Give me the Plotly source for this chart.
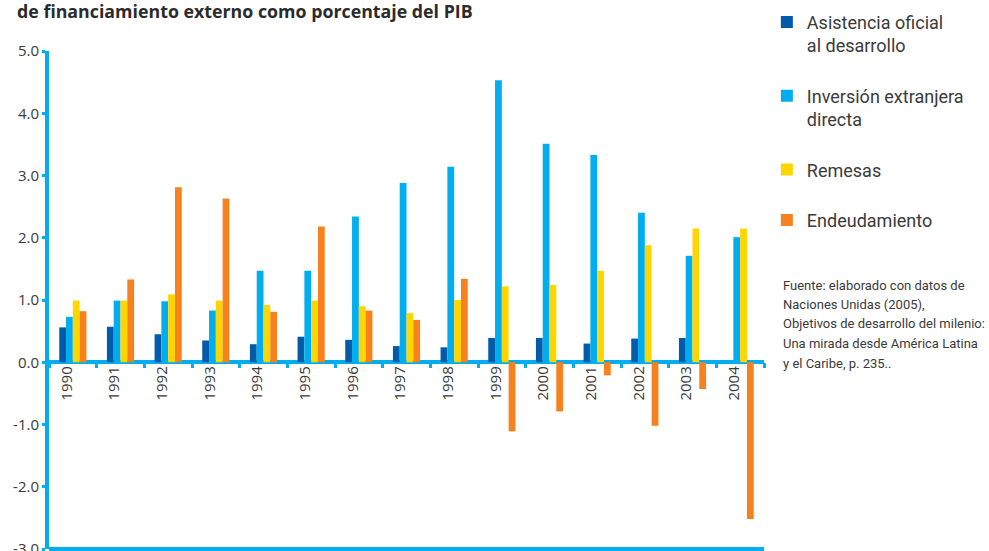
"""Flujos de financiamiento externo como porcentaje del PIB."""

import plotly.graph_objects as go

years = [str(y) for y in range(1990, 2005)]

asistencia = [0.56, 0.57, 0.45, 0.35, 0.29, 0.41, 0.36, 0.26, 0.24, 0.39,
              0.39, 0.30, 0.38, 0.39, None]
inversion = [0.73, 0.99, 0.98, 0.83, 1.47, 1.47, 2.34, 2.88, 3.14, 4.53,
             3.51, 3.33, 2.40, 1.71, 2.01]
remesas = [0.99, 0.99, 1.09, 0.99, 0.92, 0.99, 0.90, 0.79, 1.00, 1.22,
           1.24, 1.47, 1.88, 2.15, 2.15]
endeudamiento = [0.82, 1.33, 2.81, 2.63, 0.81, 2.18, 0.83, 0.68, 1.34, -1.11,
                 -0.79, -0.21, -1.02, -0.43, -2.52]

y_ticks = [-3, -2, -1, 0, 1, 2, 3, 4, 5]
y_tick_labels = ["-3.0", "-2.0", "-1.0", "0.0", "1.0", "2.0", "3.0", "4.0", "5.0"]

series = [
    ("Asistencia oficial<br>al desarrollo", asistencia, "#005BAA"),
    ("Inversión extranjera<br>directa", inversion, "#00AEEF"),
    ("Remesas", remesas, "#FFD500"),
    ("Endeudamiento", endeudamiento, "#F5821F"),
]

source_lines = [
    "Fuente: elaborado con datos de",
    "Naciones Unidas (2005),",
    "Objetivos de desarrollo del milenio:",
    "Una mirada desde América Latina",
    "y el Caribe, p. 235..",
]

AXIS_BLUE = "#00AEEF"
TEXT = "#3a3a3a"
FONT = "Open Sans, sans-serif"
NARROW = "Roboto, sans-serif"

TOP, BOTTOM = 51, 2
PLOT_H = 551 - TOP - BOTTOM  # plot area height in px, used to place notes

fig = go.Figure()

for i, (name, values, color) in enumerate(series):
    fig.add_trace(
        go.Bar(
            x=years,
            y=values,
            name=name,
            legendgroup=str(i),
            marker_color=color,
            marker_line_width=0,
        )
    )

# Bottom frame line at the foot of the plot
fig.add_shape(
    type="line", xref="paper", yref="paper",
    x0=0, x1=1, y0=0, y1=0,
    line=dict(color=AXIS_BLUE, width=4),
)

fig.update_layout(
    width=989,
    height=551,
    margin=dict(l=49, r=225, t=TOP, b=BOTTOM, autoexpand=False),
    paper_bgcolor="white",
    plot_bgcolor="white",
    font=dict(family=FONT, color=TEXT, size=15),
    barmode="group",
    bargap=0.43,
    bargroupgap=0,
    title=dict(
        text="<b>de financiamiento externo como porcentaje del PIB</b>",
        x=17 / 989,
        xref="container",
        xanchor="left",
        y=1 - 12 / 551,
        yref="container",
        yanchor="middle",
        font=dict(family=FONT, size=17.8, color="#2b2b2b"),
    ),
    xaxis=dict(
        type="category",
        anchor="free",
        position=0.375,
        showline=False,
        showgrid=False,
        ticks="outside",
        tickson="boundaries",
        ticklen=5,
        tickwidth=3,
        tickcolor=AXIS_BLUE,
        tickangle=-90,
        tickfont=dict(size=15, color=TEXT),
        ticklabelshift=-6,
    ),
    yaxis=dict(
        range=[-3, 5],
        tickvals=y_ticks,
        ticktext=y_tick_labels,
        showgrid=False,
        showline=True,
        linecolor=AXIS_BLUE,
        linewidth=4,
        zeroline=True,
        zerolinecolor=AXIS_BLUE,
        zerolinewidth=4,
        ticks="outside",
        ticklen=3,
        tickwidth=3,
        tickcolor=AXIS_BLUE,
        tickfont=dict(size=15, color=TEXT),
        ticklabeloverflow="allow",
    ),
    legend=dict(
        x=1.004,
        xanchor="left",
        y=1.095,
        yanchor="top",
        valign="top",
        tracegroupgap=24,
        traceorder="grouped",
        font=dict(family=NARROW, size=18, color=TEXT),
        itemwidth=30,
    ),
    showlegend=True,
)

# Source note, one annotation per line to keep the original line spacing
for k, line in enumerate(source_lines):
    fig.add_annotation(
        xref="paper", yref="paper",
        x=1.024, y=(551 - BOTTOM - 285 - 19.5 * k) / PLOT_H,
        xanchor="left", yanchor="middle",
        align="left",
        showarrow=False,
        text=line,
        font=dict(family=NARROW, size=13, color=TEXT),
    )

fig.write_html(
    "out.html",
    config={"displayModeBar": False},
    post_script="document.body.style.margin = '0';",
)
